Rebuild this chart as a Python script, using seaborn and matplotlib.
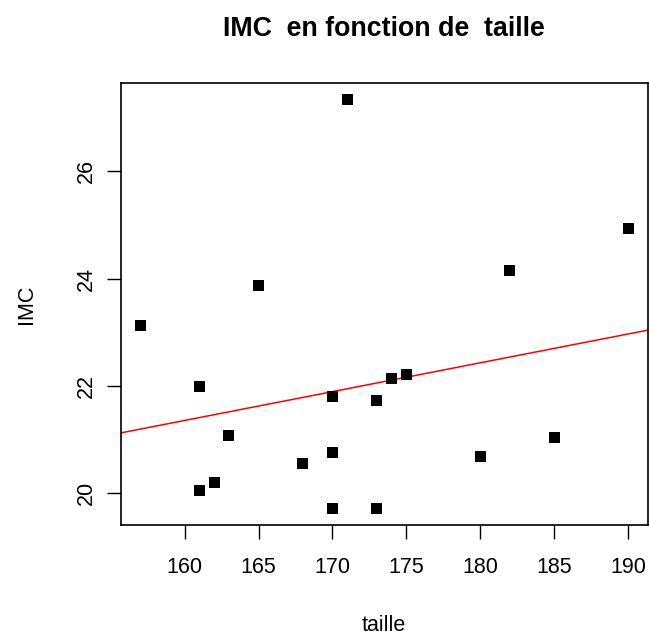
import numpy as np
import pandas as pd
import matplotlib
matplotlib.use("Agg")
import matplotlib.pyplot as plt
import seaborn as sns

taille = [157, 161, 161, 162, 163, 165, 168, 170, 170, 170, 171, 173, 173, 174, 175, 180, 182, 185, 190]
imc = [23.13, 21.99, 20.06, 20.20, 21.08, 23.88, 20.55, 21.80, 20.76, 19.71, 27.35, 21.73, 19.71, 22.14, 22.21, 20.68, 24.15, 21.04, 24.93]
x_ticks = [160, 165, 170, 175, 180, 185, 190]
y_ticks = [20, 22, 24, 26]

df = pd.DataFrame({"taille": taille, "IMC": imc})

sns.set_style("white")
plt.rcParams['font.family'] = ['Liberation Sans', 'DejaVu Sans']
plt.rcParams['text.color'] = 'black'
plt.rcParams['axes.labelcolor'] = 'black'
plt.rcParams['xtick.color'] = 'black'
plt.rcParams['ytick.color'] = 'black'

fig = plt.figure(figsize=(6.49, 6.35), dpi=100)
ax = fig.add_axes([0.186, 0.1728, 0.812, 0.697])

def pad(lo, hi):
    r = hi - lo
    return lo - 0.04 * r, hi + 0.04 * r

xlim = pad(min(taille), max(taille))
ylim = pad(min(imc), max(imc))
ax.set_xlim(*xlim)
ax.set_ylim(*ylim)

sns.scatterplot(data=df, x="taille", y="IMC", marker="s", s=62, color="black",
                edgecolor="none", linewidth=0, ax=ax, zorder=3)
sns.regplot(data=df, x="taille", y="IMC", scatter=False, ci=None, truncate=False,
            line_kws={"color": "red", "lw": 1.1}, ax=ax)
ax.set_xlim(*xlim)
ax.set_ylim(*ylim)

ax.set_xticks(x_ticks)
ax.set_yticks(y_ticks)
ax.tick_params(axis="both", direction="out", length=10, width=1, color="black",
               labelcolor="black", labelsize=15.5, bottom=True, left=True)
ax.tick_params(axis="x", pad=13)
ax.tick_params(axis="y", pad=7)
for lab in ax.get_yticklabels():
    lab.set_rotation(90)
    lab.set_va("center")

for sp in ax.spines.values():
    sp.set_visible(True)
    sp.set_color("black")
    sp.set_linewidth(1.2)

ax.set_xlabel("taille", fontsize=15.5, labelpad=26.5, color="black")
ax.set_ylabel("IMC", fontsize=15.5, labelpad=28.5, color="black")
fig.text(0.592, 0.955, "IMC  en fonction de  taille", ha="center", va="center",
         fontsize=19.3, fontweight="bold", color="black")

fig.savefig("out.png", dpi=100)
